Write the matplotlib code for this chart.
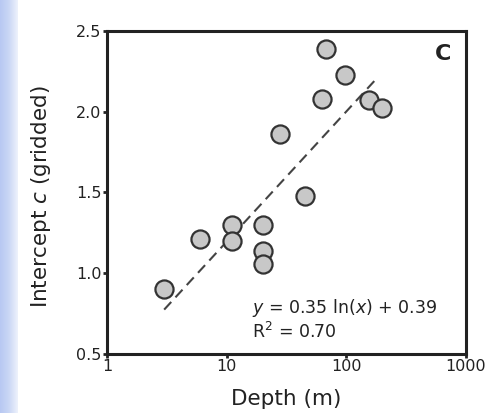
import numpy as np
import matplotlib

matplotlib.use("Agg")
import matplotlib.pyplot as plt
from matplotlib.colors import LinearSegmentedColormap

plt.rcParams["font.family"] = ["DejaVu Sans"]
plt.rcParams["mathtext.fontset"] = "dejavusans"

# Datos (profundidad en m, intercepto c)
depth = [3, 6, 11, 11, 20, 20, 20, 28, 45, 62, 67, 97, 155, 200]
intercept = [0.90, 1.21, 1.30, 1.20, 1.30, 1.14, 1.06, 1.86, 1.48, 2.08, 2.39, 2.23, 2.07, 2.02]

# Ajuste logaritmico y = a ln(x) + b
fit_a = 0.35
fit_b = 0.39
fit_x = [3, 185]

xticks = [1, 10, 100, 1000]
xticklabels = ["1", "10", "100", "1000"]
yticks = [0.5, 1.0, 1.5, 2.0, 2.5]
yticklabels = ["0.5", "1.0", "1.5", "2.0", "2.5"]

INK = "#222222"

fig = plt.figure(figsize=(4.89, 4.13), dpi=100)

# franja azul de fondo a la izquierda (diapositiva)
bg = fig.add_axes([0, 0, 0.036, 1])
grad = np.linspace(0, 1, 50).reshape(1, -1)
bg.imshow(grad, aspect="auto", extent=(0, 1, 0, 1),
          cmap=LinearSegmentedColormap.from_list("bg", ["#b8c8f2", "#cad7f5", "#eef2fc"]))
bg.axis("off")

ax = fig.add_axes([0.219, 0.143, 0.734, 0.782])
ax.set_xscale("log")
ax.set_xlim(1, 1000)
ax.set_ylim(0.5, 2.5)

xs = np.geomspace(fit_x[0], fit_x[1], 50)
ax.plot(xs, fit_a * np.log(xs) + fit_b, ls=(0, (5, 3)), color="#444444", lw=1.5, zorder=2)
ax.scatter(depth, intercept, s=170, facecolor="#c8c8c8", edgecolor="#333333",
           linewidth=1.6, zorder=3, clip_on=False)

ax.set_xticks(xticks)
ax.set_xticklabels(xticklabels)
ax.xaxis.set_minor_locator(matplotlib.ticker.NullLocator())
ax.set_yticks(yticks)
ax.set_yticklabels(yticklabels)
ax.tick_params(direction="out", length=3, width=2, labelsize=11.5, colors=INK, pad=1)
for s in ax.spines.values():
    s.set_linewidth(2.2)
    s.set_color(INK)

ax.set_xlabel("Depth (m)", fontsize=15.5, color=INK)
ax.xaxis.set_label_coords(0.5, -0.108)
ax.set_ylabel("Intercept $c$ (gridded)", fontsize=15.5, color=INK)
ax.yaxis.set_label_coords(-0.15, 0.488)

ax.text(0.936, 0.930, "C", transform=ax.transAxes, fontsize=16, fontweight="bold",
        ha="center", va="center", color=INK)
ax.text(0.405, 0.142, r"$y$ = 0.35 ln($x$) + 0.39", transform=ax.transAxes, fontsize=12.5,
        color=INK, va="center")
ax.text(0.405, 0.068, r"R$^2$ = 0.70", transform=ax.transAxes, fontsize=12.5,
        color=INK, va="center")

fig.savefig("out.png", dpi=100)
